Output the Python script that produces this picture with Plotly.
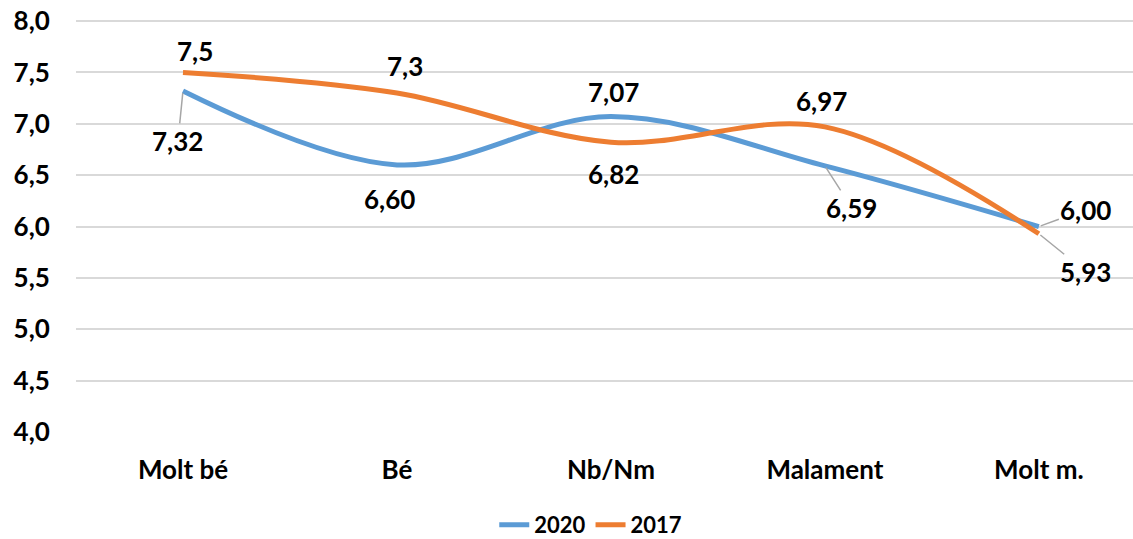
import plotly.graph_objects as go

categories = ["Molt bé", "Bé", "Nb/Nm", "Malament", "Molt m."]
values_2020 = [7.32, 6.60, 7.07, 6.59, 6.00]
values_2017 = [7.5, 7.3, 6.82, 6.97, 5.93]
labels_2020 = ["7,32", "6,60", "7,07", "6,59", "6,00"]
labels_2017 = ["7,5", "7,3", "6,82", "6,97", "5,93"]
y_ticks = [4.0, 4.5, 5.0, 5.5, 6.0, 6.5, 7.0, 7.5, 8.0]
y_ticktext = ["4,0", "4,5", "5,0", "5,5", "6,0", "6,5", "7,0", "7,5", "8,0"]

BLUE = "#5B9BD5"
ORANGE = "#ED7D31"
FONT = "Lato"
FS = 26

fig = go.Figure()
fig.add_trace(go.Scatter(x=list(range(len(categories))), y=values_2020, name="2020",
                         mode="lines", line=dict(color=BLUE, width=5, shape="spline", smoothing=1)))
fig.add_trace(go.Scatter(x=list(range(len(categories))), y=values_2017, name="2017",
                         mode="lines", line=dict(color=ORANGE, width=5, shape="spline", smoothing=1)))

# label offsets (pixels) : (ax, ay, leader line)
off_2020 = [(-5, 50, True), (-7, 34, False), (3, -25, False), (27, 42, True), (47, -17, True)]
off_2017 = [(12, -21, False), (8, -27, False), (3, 32, False), (-3, -26, False), (47, 38, True)]

for vals, labs, offs in ((values_2020, labels_2020, off_2020), (values_2017, labels_2017, off_2017)):
    for i, (v, t, (ax, ay, arr)) in enumerate(zip(vals, labs, offs)):
        fig.add_annotation(x=i, y=v, xref="x", yref="y", text=t,
                           showarrow=True, arrowhead=0, arrowwidth=1.5,
                           arrowcolor="#A6A6A6" if arr else "rgba(0,0,0,0)",
                           ax=ax, ay=ay, standoff=2,
                           font=dict(family=FONT, size=FS, color="#000000", weight="bold"))

fig.update_layout(
    width=1133, height=539,
    paper_bgcolor="white", plot_bgcolor="white",
    margin=dict(l=76, r=0, t=19, b=107, autoexpand=False),
    font=dict(family=FONT, size=FS, color="#000000", weight="bold"),
    xaxis=dict(range=[-0.5, 4.44], tickmode="array", tickvals=list(range(len(categories))),
               ticktext=categories, showgrid=False, zeroline=False, showline=False,
               automargin=False, ticklabeloverflow="allow",
               ticks="outside", ticklen=15, tickcolor="rgba(0,0,0,0)",
               tickfont=dict(family=FONT, size=FS, color="#000000", weight="bold")),
    yaxis=dict(range=[4, 8.02], tickmode="array", tickvals=y_ticks, ticktext=y_ticktext,
               showgrid=True, gridcolor="#D9D9D9", gridwidth=2, zeroline=False, showline=False,
               automargin=False, ticklabeloverflow="allow",
               ticks="outside", ticklen=20, tickcolor="rgba(0,0,0,0)",
               tickfont=dict(family=FONT, size=FS, color="#000000", weight="bold")),
    legend=dict(orientation="h", x=0.487, xanchor="center", y=-0.225, yanchor="middle",
                font=dict(family=FONT, size=22, color="#000000", weight="bold"),
                bgcolor="rgba(0,0,0,0)"),
    showlegend=True,
)

fig.write_html("out.html", config={"displayModeBar": False},
               post_script="document.body.style.margin='0';document.body.style.overflow='hidden';")
